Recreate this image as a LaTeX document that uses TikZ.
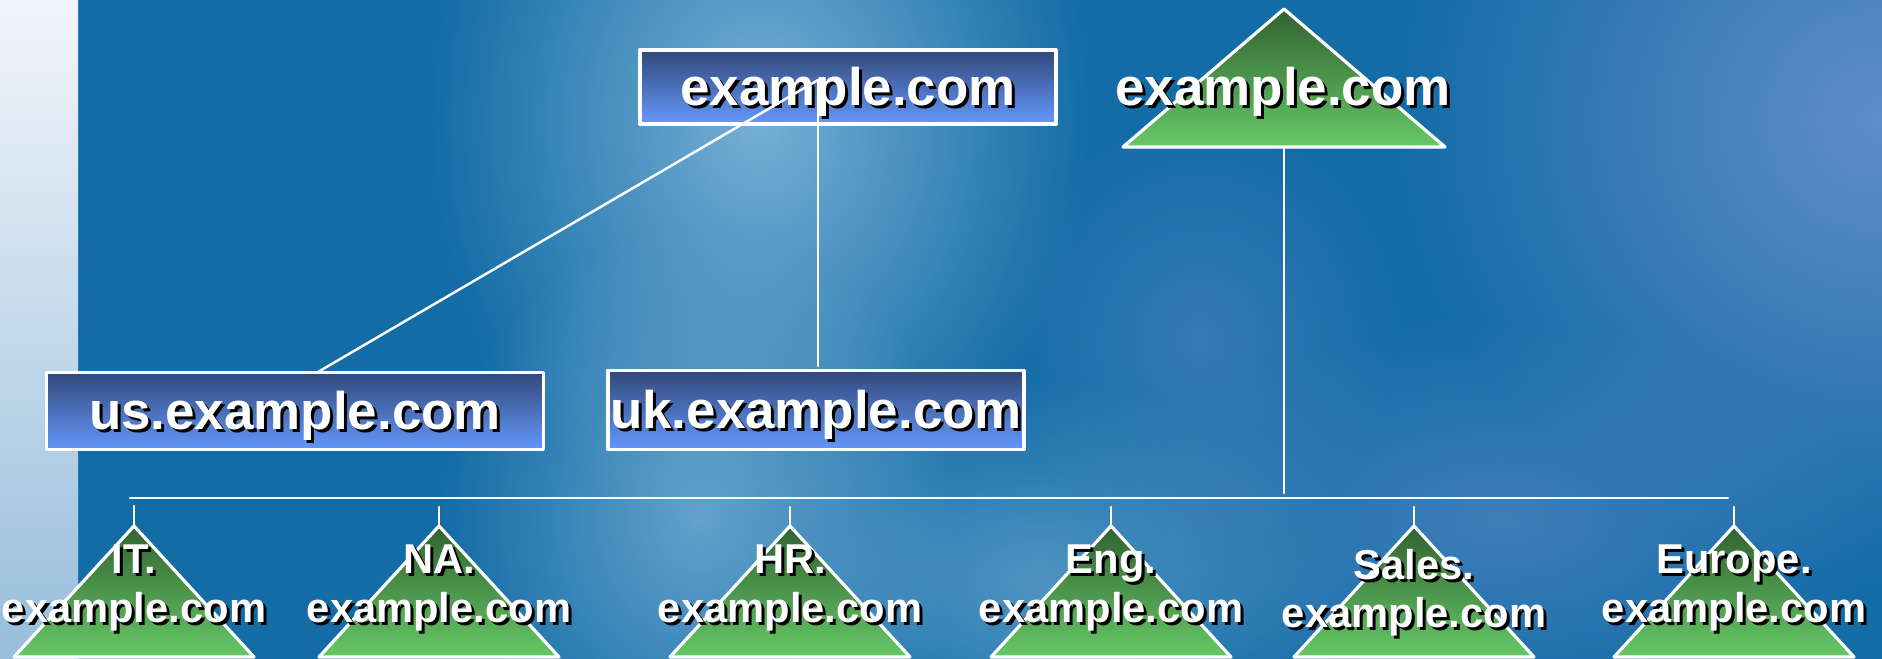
\documentclass[tikz,border=0pt]{standalone}
\usepackage{fontspec}
\setmainfont{Liberation Sans}
\usetikzlibrary{fadings}

\definecolor{bgblue}{RGB}{20,108,166}
\definecolor{haze}{RGB}{118,176,214}
\definecolor{hazeviolet}{RGB}{105,145,208}
\definecolor{boxtop}{RGB}{50,72,122}
\definecolor{boxbot}{RGB}{100,152,250}
\definecolor{tritop}{RGB}{50,98,50}
\definecolor{tribot}{RGB}{102,200,102}

\tikzfading[name=softblob, inner color=transparent!0, outer color=transparent!100]

\begin{document}
\begin{tikzpicture}[
    x=0.01cm,
    y=-0.01cm,
    line cap=round,
    line join=round,
    link/.style={draw=white, line width=0.7pt},
    box/.style={draw=white, line width=1pt, top color=boxtop, bottom color=boxbot, inner sep=0pt},
    tri/.style={draw=white, line width=0.9pt, top color=tritop, bottom color=tribot},
    big/.style={font=\bfseries\fontsize{15.05pt}{18pt}\selectfont, text=white, inner sep=0pt, yshift=-0.05cm},
    small/.style={font=\bfseries\fontsize{11.86pt}{13.66pt}\selectfont, text=white, align=center, inner sep=0pt, yshift=-0.06cm},
    drop/.style={text=black, xshift=0.03cm, yshift=-0.03cm}
]

\useasboundingbox (0,0) rectangle (1882,659);

% -------------------------------------------------
% Фон
% -------------------------------------------------

\begin{scope}
\clip (0,0) rectangle (1882,659);
\fill[bgblue] (0,0) rectangle (1882,659);
\fill[haze, path fading=softblob] (760,120) ellipse (330 and 420);
\fill[haze, path fading=softblob, opacity=0.8] (700,520) ellipse (260 and 300);
\fill[haze, path fading=softblob, opacity=0.6] (1040,580) ellipse (330 and 200);
\fill[hazeviolet, path fading=softblob, opacity=0.9] (1880,120) ellipse (480 and 460);
\fill[hazeviolet, path fading=softblob, opacity=0.5] (1500,520) ellipse (380 and 200);
\fill[hazeviolet, path fading=softblob, opacity=0.4] (1200,340) ellipse (200 and 220);
\shade[top color={rgb,255:red,242;green,245;blue,250}, bottom color={rgb,255:red,150;green,190;blue,220}]
    (0,0) rectangle (78,659);
\end{scope}

% -------------------------------------------------
% Корневой домен и поддомены
% -------------------------------------------------

\node[box, minimum width=4.16cm, minimum height=0.74cm] (root) at (848,87) {};
\node[big, drop] at (root) {example.com};
\node[big] (rootlbl) at (root) {example.com};

\node[box, minimum width=4.97cm, minimum height=0.77cm] (us) at (295,411) {};
\node[big, drop] at (us) {us.example.com};
\node[big] (uslbl) at (us) {us.example.com};

\node[box, minimum width=4.16cm, minimum height=0.79cm] (uk) at (816,410) {};
\node[big, drop] at (uk) {uk.example.com};
\node[big] (uklbl) at (uk) {uk.example.com};

% -------------------------------------------------
% Дерево справа
% -------------------------------------------------

\coordinate (org) at (1284,9);
\shadedraw[tri] (org) -- ++(-161,138) -- ++(322,0) -- cycle;
\node[big, drop] at (1283,87) {example.com};
\node[big] (orglbl) at (1283,87) {example.com};

\coordinate (it)     at (134,526);
\coordinate (na)     at (439,526);
\coordinate (hr)     at (790,526);
\coordinate (eng)    at (1111,526);
\coordinate (sales)  at (1414,526);
\coordinate (europe) at (1734,526);

\shadedraw[tri] (it)     -- ++(-120,131) -- ++(240,0) -- cycle;
\shadedraw[tri] (na)     -- ++(-120,131) -- ++(240,0) -- cycle;
\shadedraw[tri] (hr)     -- ++(-120,131) -- ++(240,0) -- cycle;
\shadedraw[tri] (eng)    -- ++(-120,131) -- ++(240,0) -- cycle;
\shadedraw[tri] (sales)  -- ++(-120,131) -- ++(240,0) -- cycle;
\shadedraw[tri] (europe) -- ++(-120,131) -- ++(240,0) -- cycle;

\node[small, drop] at (134,582)  {IT.\\example.com};
\node[small] (itlbl) at (134,582)  {IT.\\example.com};
\node[small, drop] at (439,582)  {NA.\\example.com};
\node[small] (nalbl) at (439,582)  {NA.\\example.com};
\node[small, drop] at (790,582)  {HR.\\example.com};
\node[small] (hrlbl) at (790,582)  {HR.\\example.com};
\node[small, drop] at (1111,582) {Eng.\\example.com};
\node[small] (englbl) at (1111,582) {Eng.\\example.com};
\node[small, drop] at (1414,587) {Sales.\\example.com};
\node[small] (saleslbl) at (1414,587) {Sales.\\example.com};
\node[small, drop] at (1734,582) {Europe.\\example.com};
\node[small] (europelbl) at (1734,582) {Europe.\\example.com};

% -------------------------------------------------
% Связи
% -------------------------------------------------

\coordinate (hub)   at (818,80);
\coordinate (usin)  at (318,372);
\coordinate (ukin)  at (818,366);
\draw[link] (hub) -- (usin);
\draw[link] (hub) -- (ukin);

\coordinate (orgbase) at (1284,147);
\coordinate (join)    at (1284,493);
\coordinate (barL)    at (130,498);
\coordinate (barR)    at (1728,498);
\draw[link] (orgbase) -- (join);
\draw[link] (barL) -- (barR);

\draw[link] (it)     -- ++(0,-20);
\draw[link] (na)     -- ++(0,-19);
\draw[link] (hr)     -- ++(0,-19);
\draw[link] (eng)    -- ++(0,-19);
\draw[link] (sales)  -- ++(0,-19);
\draw[link] (europe) -- ++(0,-19);

\end{tikzpicture}
\end{document}
